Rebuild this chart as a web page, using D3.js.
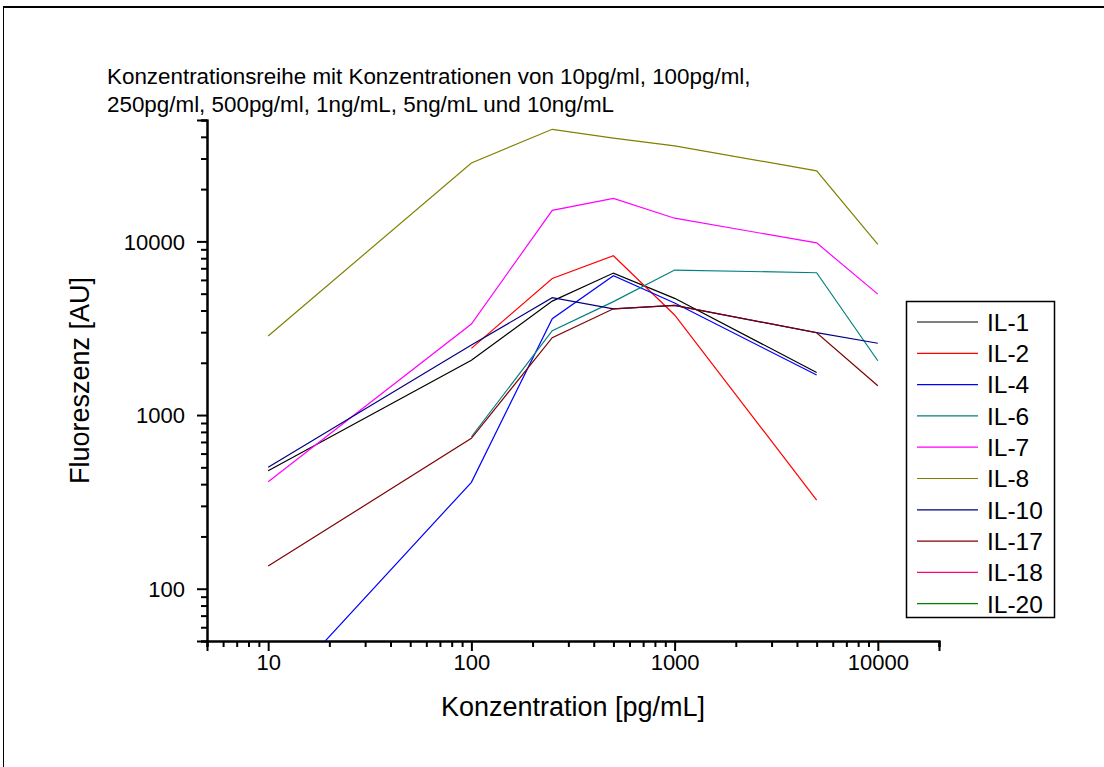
<!DOCTYPE html>
<html>
<head>
<meta charset="utf-8">
<script src="https://cdn.jsdelivr.net/npm/d3@7"></script>
<style>
  html, body { margin: 0; padding: 0; background: #fff; }
  svg { display: block; font-family: "Liberation Sans", Arial, sans-serif; }
</style>
</head>
<body>
<svg id="chart" width="1104" height="767"></svg>
<script>
// Concentrations (pg/mL)
const concentrations = [10, 100, 250, 500, 1000, 5000, 10000];

// Fluorescence per interleukin, null = not measured
const il1  = [478, 2070, 4530, 6570, 4700, 1760, null];
const il2  = [null, 2420, 6120, 8270, 3770, 324, null];
const il4  = [22, 410, 3590, 6340, 4420, 1700, null];
const il6  = [null, 750, 3060, 4500, 6840, 6600, 2055];
const il7  = [413, 3340, 15100, 17700, 13600, 9800, 4970];
const il8  = [2850, 28300, 44200, 39300, 35500, 25500, 9600];
const il10 = [500, 2530, 4740, 4090, 4280, 2980, 2590];
const il17 = [135, 734, 2790, 4090, 4280, 2980, 1475];
const il18 = [null, null, null, null, null, null, null];
const il20 = [null, null, null, null, null, null, null];

const seriesNames = ["IL-1", "IL-2", "IL-4", "IL-6", "IL-7", "IL-8", "IL-10", "IL-17", "IL-18", "IL-20"];
const seriesValues = [il1, il2, il4, il6, il7, il8, il10, il17, il18, il20];
const seriesColors = ["#000000", "#ff0000", "#0000ff", "#008080", "#ff00ff",
                      "#808000", "#000080", "#800000", "#ff0080", "#008000"];

const xMajorTicks = [10, 100, 1000, 10000];
const yMajorTicks = [100, 1000, 10000];

const titleLines = [
  "Konzentrationsreihe mit Konzentrationen von 10pg/ml, 100pg/ml,",
  "250pg/ml, 500pg/ml, 1ng/mL, 5ng/mL und 10ng/mL"
];

const svg = d3.select("#chart");

// outer frame (top and left edges)
svg.append("line").attr("x1", 3).attr("x2", 1104).attr("y1", 7).attr("y2", 7)
  .attr("stroke", "#000").attr("stroke-width", 2);
svg.append("line").attr("x1", 3.5).attr("x2", 3.5).attr("y1", 7).attr("y2", 767)
  .attr("stroke", "#000").attr("stroke-width", 1);

const plot = { left: 207, right: 939, top: 120, bottom: 641 };

const x = d3.scaleLog().domain([5, 20000]).range([plot.left, plot.right]);
const y = d3.scaleLog().domain([50, 50000]).range([plot.bottom, plot.top]);

// minor tick values: 2..9 within each decade
function minorTicks(lo, hi) {
  const out = [];
  for (let p = Math.floor(Math.log10(lo)); p <= Math.ceil(Math.log10(hi)); p++) {
    for (let m = 2; m <= 9; m++) {
      const v = m * Math.pow(10, p);
      if (v >= lo && v <= hi) out.push(v);
    }
  }
  return out;
}

// axes
const xMinor = d3.axisBottom(x).tickValues(minorTicks(5, 20000)).tickSize(6).tickFormat("");
const xMajor = d3.axisBottom(x).tickValues(xMajorTicks).tickSize(10).tickFormat(d3.format("d"));
const yMinor = d3.axisLeft(y).tickValues(minorTicks(50, 50000)).tickSize(6).tickFormat("");
const yMajor = d3.axisLeft(y).tickValues(yMajorTicks).tickSize(10).tickFormat(d3.format("d"));

function styleAxis(g) {
  g.selectAll("path.domain").attr("stroke", "#000").attr("stroke-width", 2);
  g.selectAll(".tick line").attr("stroke", "#000").attr("stroke-width", 2);
  g.selectAll(".tick text").attr("fill", "#000").attr("font-size", 22)
    .attr("font-family", "Liberation Sans, Arial, sans-serif");
}

svg.append("g").attr("transform", `translate(0,${plot.bottom})`).call(xMinor).call(styleAxis);
const gx = svg.append("g").attr("transform", `translate(0,${plot.bottom})`).call(xMajor).call(styleAxis);
gx.selectAll(".tick text").attr("dy", 0).attr("y", 29);

svg.append("g").attr("transform", `translate(${plot.left},0)`).call(yMinor).call(styleAxis);
const gy = svg.append("g").attr("transform", `translate(${plot.left},0)`).call(yMajor).call(styleAxis);
gy.selectAll(".tick text").attr("x", -22).attr("dy", "0.36em");

// clip lines to the plotting region
svg.append("clipPath").attr("id", "plotClip")
  .append("rect")
  .attr("x", plot.left).attr("y", plot.top)
  .attr("width", plot.right - plot.left).attr("height", plot.bottom - plot.top);

const line = d3.line()
  .defined(d => d.v != null)
  .x(d => x(d.c))
  .y(d => y(d.v));

const lines = svg.append("g").attr("clip-path", "url(#plotClip)");
seriesValues.forEach((vals, i) => {
  const pts = concentrations.map((c, j) => ({ c, v: vals[j] }));
  lines.append("path")
    .datum(pts)
    .attr("fill", "none")
    .attr("stroke", seriesColors[i])
    .attr("stroke-width", 1.2)
    .attr("d", line);
});

// title
titleLines.forEach((t, i) => {
  svg.append("text")
    .attr("x", 107).attr("y", 84 + i * 28)
    .attr("font-size", 22.4).attr("fill", "#000")
    .text(t);
});

// axis titles
svg.append("text")
  .attr("x", (plot.left + plot.right) / 2).attr("y", 716)
  .attr("text-anchor", "middle").attr("font-size", 27).attr("fill", "#000")
  .text("Konzentration [pg/mL]");

svg.append("text")
  .attr("transform", `translate(89,${(plot.top + plot.bottom) / 2}) rotate(-90)`)
  .attr("text-anchor", "middle").attr("font-size", 27).attr("fill", "#000")
  .text("Fluoreszenz [AU]");

// legend
const legend = svg.append("g");
legend.append("rect")
  .attr("x", 906.5).attr("y", 301.5).attr("width", 148).attr("height", 316)
  .attr("fill", "#fff").attr("stroke", "#000").attr("stroke-width", 1.5);

seriesNames.forEach((name, i) => {
  const cy = 322 + i * 31.3;
  legend.append("line")
    .attr("x1", 917).attr("x2", 978).attr("y1", cy).attr("y2", cy)
    .attr("stroke", seriesColors[i]).attr("stroke-width", 1.2);
  legend.append("text")
    .attr("x", 987).attr("y", cy).attr("dy", "0.36em")
    .attr("font-size", 24.5).attr("fill", "#000")
    .text(name);
});
</script>
</body>
</html>
